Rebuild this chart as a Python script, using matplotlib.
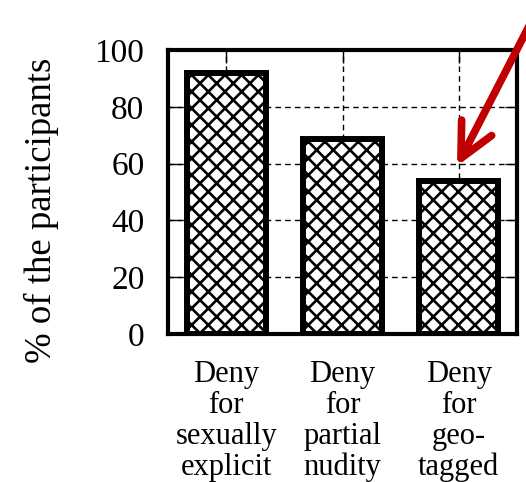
import matplotlib
matplotlib.use('Agg')
import matplotlib.pyplot as plt
from matplotlib.patches import FancyArrowPatch

categories = ['Deny\nfor\nsexually\nexplicit', 'Deny\nfor\npartial\nnudity', 'Deny\nfor\ngeo-\ntagged']
values = [92, 68.5, 54]
yticks = [0, 20, 40, 60, 80, 100]

plt.rcParams['font.family'] = ['Liberation Serif', 'DejaVu Serif']
plt.rcParams['hatch.linewidth'] = 1.9

fig = plt.figure(figsize=(5.26, 4.82), dpi=100)
ax = fig.add_axes([168/526, 1-334/482, 349/526, 284/482])

x = list(range(len(categories)))
ax.bar(x, values, width=0.68, facecolor='white', edgecolor='black',
       linewidth=4.3, hatch='xx', zorder=3)

ax.set_xlim(-0.5, 2.5)
ax.set_ylim(0, 100)
ax.set_yticks(yticks)
ax.set_xticks(x)
ax.set_xticklabels(categories, fontsize=22, linespacing=1.08)
ax.tick_params(axis='y', labelsize=24, direction='in', length=9, width=1,
               left=True, right=True, pad=17)
ax.tick_params(axis='x', direction='in', length=9, width=1,
               top=True, bottom=True, pad=19)
ax.set_axisbelow(True)
ax.grid(True, color='black', linestyle=(0, (4, 3)), linewidth=1)
for s in ax.spines.values():
    s.set_linewidth(3)

fig.text(41/526, 1-210/482, '% of the participants', rotation=90,
         fontsize=26.5, ha='center', va='center')

arrow = FancyArrowPatch((545/526, 1+5/482), (457/526, 1-166/482),
                        transform=fig.transFigure,
                        arrowstyle='->,head_length=0.65,head_width=0.32',
                        mutation_scale=38, color='#c00000', linewidth=5.5,
                        shrinkA=0, shrinkB=0, capstyle='round',
                        joinstyle='round', zorder=10)
fig.add_artist(arrow)

fig.savefig('out.png', dpi=100)
